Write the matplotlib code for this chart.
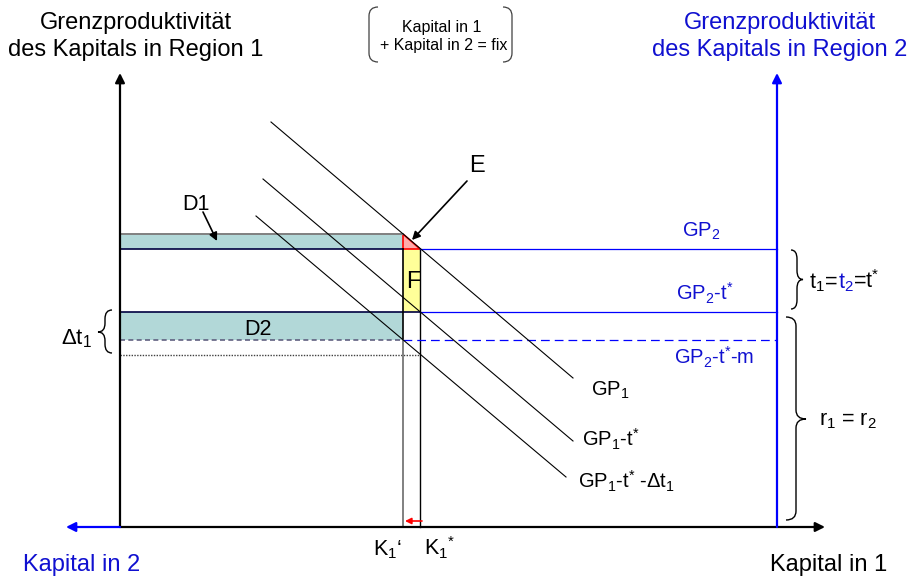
import matplotlib.pyplot as plt
from matplotlib.path import Path
from matplotlib.patches import PathPatch, Polygon, Rectangle

plt.rcParams['font.family'] = ['Liberation Sans', 'DejaVu Sans']
plt.rcParams['mathtext.fontset'] = 'custom'
plt.rcParams['mathtext.rm'] = 'Liberation Sans'
plt.rcParams['mathtext.it'] = 'Liberation Sans:italic'
plt.rcParams['mathtext.sf'] = 'Liberation Sans'

# schematic diagram, everything in pixel units (y grows downward)
x_axis1 = 120          # left axis (region 1)
x_axis2 = 777          # right axis (region 2)
y_base = 527
y_axis_top = 73
x_arrow_right = 825
x_arrow_left = 66

x_k1_new = 403         # K1'
x_k1_star = 420        # K1*
y_gp2 = 249            # GP2
y_gp2_t = 312          # GP2 - t*
y_gp2_tm = 340         # GP2 - t* - m
y_dotted = 355
y_d1_top = 234

STAR = r'$^{\mathrm{*}}$'

# GP1, GP1-t*, GP1-t*-dt1 (start / end points)
gp1_x0 = [271, 263, 256]
gp1_y0 = [122, 179, 216]
gp1_x1 = [573, 573, 566]
gp1_y1 = [378, 441, 477]
gp1_labels = [r'GP$_{1}$', r'GP$_{1}$-t' + STAR, r'GP$_{1}$-t' + STAR + r' -Δt$_{1}$']
gp1_label_x = [610, 611, 626]
gp1_label_y = [396, 447, 488]

gp2_labels = [r'GP$_{2}$', r'GP$_{2}$-t' + STAR, r'GP$_{2}$-t' + STAR + '-m']
gp2_label_x = [701, 705, 714]
gp2_label_y = [237, 300, 365]

blue = '#0000FF'
text_blue = '#1010D0'
teal = '#B2D8D8'
yellow = '#FFFF99'

fig = plt.figure(figsize=(9.11, 5.76), dpi=100)
ax = fig.add_axes([0, 0, 1, 1])
ax.set_xlim(0, 911)
ax.set_ylim(576, 0)
ax.axis('off')


def arrow(x0, y0, x1, y1, color='black', lw=1.6, ms=14):
    ax.annotate('', xy=(x1, y1), xytext=(x0, y0),
                arrowprops=dict(arrowstyle='-|>', color=color, lw=lw,
                                mutation_scale=ms, shrinkA=0, shrinkB=0))


def brace(x_end, x_tip, y0, y1, ym=None, lw=1.0):
    xs = (x_end + x_tip) / 2
    if ym is None:
        ym = (y0 + y1) / 2
    r = min(9, (ym - y0) / 2.5)
    verts = [(x_end, y0), (xs, y0), (xs, y0 + r), (xs, ym - r),
             (xs, ym), (x_tip, ym), (xs, ym), (xs, ym + r),
             (xs, y1 - r), (xs, y1), (x_end, y1)]
    codes = [Path.MOVETO, Path.CURVE3, Path.CURVE3, Path.LINETO,
             Path.CURVE3, Path.CURVE3, Path.CURVE3, Path.CURVE3,
             Path.LINETO, Path.CURVE3, Path.CURVE3]
    ax.add_patch(PathPatch(Path(verts, codes), fill=False, lw=lw, color='black'))


# shaded areas
ax.add_patch(Rectangle((x_axis1, y_d1_top), x_k1_new - x_axis1, y_gp2 - y_d1_top,
                       facecolor=teal, edgecolor='none'))
ax.add_patch(Rectangle((x_axis1, y_gp2_t), x_k1_new - x_axis1, y_gp2_tm - y_gp2_t,
                       facecolor=teal, edgecolor='none'))
ax.add_patch(Rectangle((x_k1_new, y_gp2), x_k1_star - x_k1_new, y_gp2_t - y_gp2,
                       facecolor=yellow, edgecolor='none'))
ax.add_patch(Polygon([(x_k1_new, y_d1_top), (x_k1_new, y_gp2), (x_k1_star, y_gp2)],
                     closed=True, facecolor='#FFAAAA', edgecolor='red', lw=1.2))

# rectangle edges
ax.plot([x_axis1, x_k1_new], [y_d1_top, y_d1_top], color='#808080', lw=1.4)
ax.plot([x_axis1, x_k1_new], [y_gp2, y_gp2], color='#000040', lw=1.2)
ax.plot([x_axis1, x_k1_star], [y_gp2_t, y_gp2_t], color='#000040', lw=1.2)
ax.plot([x_axis1, x_k1_new], [y_gp2_tm, y_gp2_tm], color='#606080', lw=1.2,
        ls=(0, (3, 2)))
ax.plot([x_axis1, x_k1_star], [y_dotted, y_dotted], color='#404040', lw=1.0,
        ls=(0, (1, 1)))

# K1' and K1* verticals
ax.plot([x_k1_new, x_k1_new], [y_gp2, y_gp2_tm], color='black', lw=1.2)
ax.plot([x_k1_new, x_k1_new], [y_gp2_tm, y_base], color='#808080', lw=1.4)
ax.plot([x_k1_star, x_k1_star], [y_gp2, y_base], color='black', lw=1.0)

# GP2 levels (blue, from region 2 axis)
ax.plot([x_k1_star, x_axis2], [y_gp2, y_gp2], color=blue, lw=0.9)
ax.plot([x_k1_star, x_axis2], [y_gp2_t, y_gp2_t], color=blue, lw=0.9)
ax.plot([x_k1_new, x_axis2], [y_gp2_tm, y_gp2_tm], color=blue, lw=0.9,
        ls=(0, (7, 4)))

# GP1 curves
for x0, y0, x1, y1 in zip(gp1_x0, gp1_y0, gp1_x1, gp1_y1):
    ax.plot([x0, x1], [y0, y1], color='black', lw=0.8)

# axes
arrow(x_axis1, y_base, x_axis1, y_axis_top)
arrow(x_axis1, y_base, x_arrow_right, y_base)
arrow(x_axis1, y_base, x_arrow_left, y_base, color=blue)
arrow(x_axis2, y_base, x_axis2, y_axis_top, color=blue)

# small arrows
arrow(467, 181, 412, 240, lw=1.2, ms=12)
arrow(203, 212, 217, 241, lw=1.2, ms=12)
arrow(422, 521, 405, 521, color='red', lw=1.2, ms=9)

# braces
brace(791, 803, 250, 309)
brace(786, 806, 317, 520, ym=419)
brace(112, 98, 310, 353, ym=332)

# brackets round the constraint box
for xe, xs in [(378, 369), (503, 512)]:
    verts = [(xe, 7), (xs, 7), (xs, 16), (xs, 53), (xs, 62), (xe, 62)]
    codes = [Path.MOVETO, Path.CURVE3, Path.CURVE3, Path.LINETO,
             Path.CURVE3, Path.CURVE3]
    ax.add_patch(PathPatch(Path(verts, codes), fill=False, lw=0.9, color='#404040'))

# texts
hdr = 17
ax.text(136, 29, 'Grenzproduktivität', ha='center', va='baseline', fontsize=hdr)
ax.text(136, 56, 'des Kapitals in Region 1', ha='center', va='baseline', fontsize=hdr)
ax.text(780, 29, 'Grenzproduktivität', ha='center', va='baseline', fontsize=hdr,
        color=text_blue)
ax.text(780, 56, 'des Kapitals in Region 2', ha='center', va='baseline', fontsize=hdr,
        color=text_blue)
ax.text(442, 32, 'Kapital in 1', ha='center', va='baseline', fontsize=11.5)
ax.text(444, 50, '+ Kapital in 2 = fix', ha='center', va='baseline', fontsize=11.5)

ax.text(477, 172, 'E', ha='center', va='baseline', fontsize=17)
ax.text(413, 288, 'F', ha='center', va='baseline', fontsize=17)
ax.text(196, 210, 'D1', ha='center', va='baseline', fontsize=15.5)
ax.text(258, 335, 'D2', ha='center', va='baseline', fontsize=15.5)

for s, x, y in zip(gp1_labels, gp1_label_x, gp1_label_y):
    ax.text(x, y, s, ha='center', va='baseline', fontsize=14.5)
for s, x, y in zip(gp2_labels, gp2_label_x, gp2_label_y):
    ax.text(x, y, s, ha='center', va='baseline', fontsize=14.5, color=text_blue)

ax.text(387, 555, "K$_{1}$‘", ha='center', va='baseline', fontsize=15.5)
ax.text(440, 555, "K$_{1}$" + STAR, ha='center', va='baseline', fontsize=15.5)
ax.text(82, 571, 'Kapital in 2', ha='center', va='baseline', fontsize=hdr,
        color=text_blue)
ax.text(829, 571, 'Kapital in 1', ha='center', va='baseline', fontsize=hdr)

ax.text(77, 344, 'Δt$_{1}$', ha='center', va='baseline', fontsize=16)
ax.text(848, 425, 'r$_{1}$ = r$_{2}$', ha='center', va='baseline', fontsize=15.5)

# t1=t2=t* with the region 2 part in blue
renderer = fig.canvas.get_renderer()
x_cur = 809
for s, c in [('t$_{1}$=', 'black'), ('t$_{2}$', text_blue), ('=t' + STAR, 'black')]:
    t = ax.text(x_cur, 288, s, ha='left', va='baseline', fontsize=15.5, color=c)
    bb = t.get_window_extent(renderer)
    x_cur = ax.transData.inverted().transform((bb.x1, 0))[0]

fig.savefig('out.png', dpi=100)
